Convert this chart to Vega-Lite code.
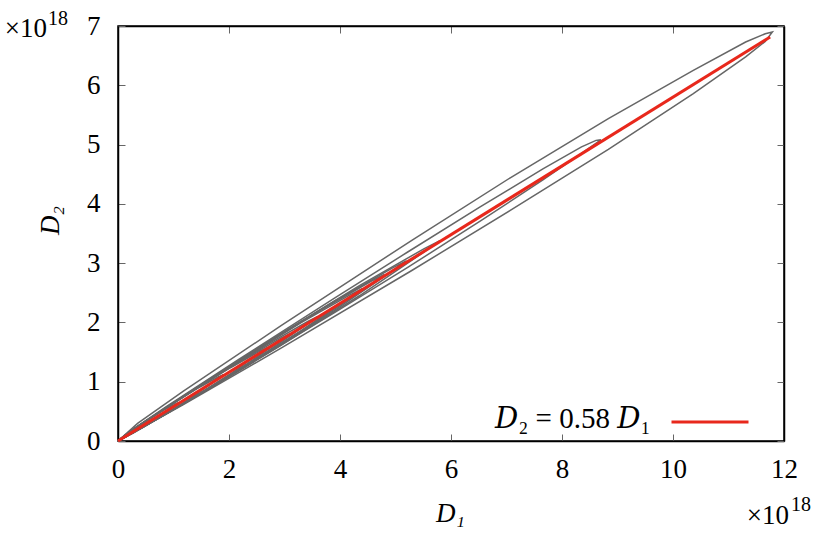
{
  "$schema": "https://vega.github.io/schema/vega-lite/v6.json",
  "width": 666,
  "height": 415,
  "autosize": {"type": "none"},
  "padding": {"left": 118, "top": 26, "right": 46, "bottom": 101},
  "background": "white",
  "config": {
    "font": "'Times New Roman', 'Liberation Serif', 'DejaVu Serif', serif",
    "view": {"stroke": "black", "strokeWidth": 1.5},
    "text": {"font": "'Times New Roman', 'Liberation Serif', 'DejaVu Serif', serif"},
    "legend": {"titleFont": "'Times New Roman', 'Liberation Serif', 'DejaVu Serif', serif", "labelFont": "'Times New Roman', 'Liberation Serif', 'DejaVu Serif', serif"},
    "axis": {
      "grid": false,
      "domainColor": "black",
      "domainWidth": 1.5,
      "tickColor": "#666666",
      "tickWidth": 1,
      "tickSize": -7,
      "labelFont": "'Times New Roman', 'Liberation Serif', 'DejaVu Serif', serif",
      "labelFontSize": 27,
      "labelColor": "black",
      "labelFlush": false,
      "labelOverlap": false,
      "titleFont": "'Times New Roman', 'Liberation Serif', 'DejaVu Serif', serif",
      "titleFontSize": 27,
      "titleFontStyle": "italic",
      "titleFontWeight": "normal",
      "titleColor": "black"
    }
  },
  "datasets": {
    "loops": [
      {"loop": 1, "i": 0, "D1": 0, "D2": 0},
      {"loop": 1, "i": 1, "D1": 0.353, "D2": 0.297},
      {"loop": 1, "i": 2, "D1": 1.178, "D2": 0.84},
      {"loop": 1, "i": 3, "D1": 2.945, "D2": 1.95},
      {"loop": 1, "i": 4, "D1": 5.301, "D2": 3.39},
      {"loop": 1, "i": 5, "D1": 7.068, "D2": 4.44},
      {"loop": 1, "i": 6, "D1": 8.835, "D2": 5.439},
      {"loop": 1, "i": 7, "D1": 10.366, "D2": 6.252},
      {"loop": 1, "i": 8, "D1": 11.309, "D2": 6.73},
      {"loop": 1, "i": 9, "D1": 11.662, "D2": 6.87},
      {"loop": 1, "i": 10, "D1": 11.79, "D2": 6.9},
      {"loop": 1, "i": 11, "D1": 11.662, "D2": 6.74},
      {"loop": 1, "i": 12, "D1": 11.309, "D2": 6.48},
      {"loop": 1, "i": 13, "D1": 10.366, "D2": 5.86},
      {"loop": 1, "i": 14, "D1": 8.835, "D2": 4.92},
      {"loop": 1, "i": 15, "D1": 7.068, "D2": 3.89},
      {"loop": 1, "i": 16, "D1": 5.301, "D2": 2.88},
      {"loop": 1, "i": 17, "D1": 2.945, "D2": 1.57},
      {"loop": 1, "i": 18, "D1": 1.178, "D2": 0.613},
      {"loop": 1, "i": 19, "D1": 0.353, "D2": 0.185},
      {"loop": 1, "i": 20, "D1": 0, "D2": 0},
      {"loop": 2, "i": 0, "D1": 0, "D2": 0},
      {"loop": 2, "i": 1, "D1": 0.261, "D2": 0.194},
      {"loop": 2, "i": 2, "D1": 0.87, "D2": 0.578},
      {"loop": 2, "i": 3, "D1": 2.175, "D2": 1.375},
      {"loop": 2, "i": 4, "D1": 3.915, "D2": 2.419},
      {"loop": 2, "i": 5, "D1": 5.22, "D2": 3.188},
      {"loop": 2, "i": 6, "D1": 6.525, "D2": 3.95},
      {"loop": 2, "i": 7, "D1": 7.656, "D2": 4.589},
      {"loop": 2, "i": 8, "D1": 8.352, "D2": 4.961},
      {"loop": 2, "i": 9, "D1": 8.613, "D2": 5.071},
      {"loop": 2, "i": 10, "D1": 8.7, "D2": 5.08},
      {"loop": 2, "i": 11, "D1": 8.352, "D2": 4.853},
      {"loop": 2, "i": 12, "D1": 7.656, "D2": 4.404},
      {"loop": 2, "i": 13, "D1": 6.525, "D2": 3.708},
      {"loop": 2, "i": 14, "D1": 5.22, "D2": 2.928},
      {"loop": 2, "i": 15, "D1": 3.915, "D2": 2.172},
      {"loop": 2, "i": 16, "D1": 2.175, "D2": 1.186},
      {"loop": 2, "i": 17, "D1": 0.87, "D2": 0.466},
      {"loop": 2, "i": 18, "D1": 0.261, "D2": 0.14},
      {"loop": 2, "i": 19, "D1": 0, "D2": 0},
      {"loop": 3, "i": 0, "D1": 0, "D2": 0},
      {"loop": 3, "i": 1, "D1": 0.29, "D2": 0.209},
      {"loop": 3, "i": 2, "D1": 1.45, "D2": 0.92},
      {"loop": 3, "i": 3, "D1": 2.9, "D2": 1.79},
      {"loop": 3, "i": 4, "D1": 4.35, "D2": 2.62},
      {"loop": 3, "i": 5, "D1": 5.51, "D2": 3.241},
      {"loop": 3, "i": 6, "D1": 5.8, "D2": 3.38},
      {"loop": 3, "i": 7, "D1": 5.51, "D2": 3.186},
      {"loop": 3, "i": 8, "D1": 4.35, "D2": 2.45},
      {"loop": 3, "i": 9, "D1": 2.9, "D2": 1.59},
      {"loop": 3, "i": 10, "D1": 1.45, "D2": 0.775},
      {"loop": 3, "i": 11, "D1": 0.29, "D2": 0.154},
      {"loop": 3, "i": 12, "D1": 0, "D2": 0},
      {"loop": 4, "i": 0, "D1": 0, "D2": 0},
      {"loop": 4, "i": 1, "D1": 0.26, "D2": 0.188},
      {"loop": 4, "i": 2, "D1": 1.3, "D2": 0.828},
      {"loop": 4, "i": 3, "D1": 2.6, "D2": 1.61},
      {"loop": 4, "i": 4, "D1": 3.9, "D2": 2.357},
      {"loop": 4, "i": 5, "D1": 4.94, "D2": 2.915},
      {"loop": 4, "i": 6, "D1": 5.2, "D2": 3.04},
      {"loop": 4, "i": 7, "D1": 4.94, "D2": 2.866},
      {"loop": 4, "i": 8, "D1": 3.9, "D2": 2.204},
      {"loop": 4, "i": 9, "D1": 2.6, "D2": 1.43},
      {"loop": 4, "i": 10, "D1": 1.3, "D2": 0.697},
      {"loop": 4, "i": 11, "D1": 0.26, "D2": 0.138},
      {"loop": 4, "i": 12, "D1": 0, "D2": 0},
      {"loop": 5, "i": 0, "D1": 0, "D2": 0},
      {"loop": 5, "i": 1, "D1": 0.22, "D2": 0.161},
      {"loop": 5, "i": 2, "D1": 1.1, "D2": 0.703},
      {"loop": 5, "i": 3, "D1": 2.2, "D2": 1.365},
      {"loop": 5, "i": 4, "D1": 3.3, "D2": 1.996},
      {"loop": 5, "i": 5, "D1": 4.18, "D2": 2.465},
      {"loop": 5, "i": 6, "D1": 4.4, "D2": 2.57},
      {"loop": 5, "i": 7, "D1": 4.18, "D2": 2.421},
      {"loop": 5, "i": 8, "D1": 3.3, "D2": 1.86},
      {"loop": 5, "i": 9, "D1": 2.2, "D2": 1.205},
      {"loop": 5, "i": 10, "D1": 1.1, "D2": 0.586},
      {"loop": 5, "i": 11, "D1": 0.22, "D2": 0.117},
      {"loop": 5, "i": 12, "D1": 0, "D2": 0},
      {"loop": 6, "i": 0, "D1": 0, "D2": 0},
      {"loop": 6, "i": 1, "D1": 0.18, "D2": 0.133},
      {"loop": 6, "i": 2, "D1": 0.9, "D2": 0.578},
      {"loop": 6, "i": 3, "D1": 1.8, "D2": 1.12},
      {"loop": 6, "i": 4, "D1": 2.7, "D2": 1.635},
      {"loop": 6, "i": 5, "D1": 3.42, "D2": 2.016},
      {"loop": 6, "i": 6, "D1": 3.6, "D2": 2.1},
      {"loop": 6, "i": 7, "D1": 3.42, "D2": 1.978},
      {"loop": 6, "i": 8, "D1": 2.7, "D2": 1.515},
      {"loop": 6, "i": 9, "D1": 1.8, "D2": 0.98},
      {"loop": 6, "i": 10, "D1": 0.9, "D2": 0.476},
      {"loop": 6, "i": 11, "D1": 0.18, "D2": 0.095},
      {"loop": 6, "i": 12, "D1": 0, "D2": 0},
      {"loop": 7, "i": 0, "D1": 0, "D2": 0},
      {"loop": 7, "i": 1, "D1": 0.135, "D2": 0.103},
      {"loop": 7, "i": 2, "D1": 0.675, "D2": 0.44},
      {"loop": 7, "i": 3, "D1": 1.35, "D2": 0.85},
      {"loop": 7, "i": 4, "D1": 2.025, "D2": 1.236},
      {"loop": 7, "i": 5, "D1": 2.565, "D2": 1.519},
      {"loop": 7, "i": 6, "D1": 2.7, "D2": 1.58},
      {"loop": 7, "i": 7, "D1": 2.565, "D2": 1.486},
      {"loop": 7, "i": 8, "D1": 2.025, "D2": 1.134},
      {"loop": 7, "i": 9, "D1": 1.35, "D2": 0.73},
      {"loop": 7, "i": 10, "D1": 0.675, "D2": 0.353},
      {"loop": 7, "i": 11, "D1": 0.135, "D2": 0.07},
      {"loop": 7, "i": 12, "D1": 0, "D2": 0},
      {"loop": 8, "i": 0, "D1": 0, "D2": 0},
      {"loop": 8, "i": 1, "D1": 0.095, "D2": 0.076},
      {"loop": 8, "i": 2, "D1": 0.475, "D2": 0.318},
      {"loop": 8, "i": 3, "D1": 0.95, "D2": 0.61},
      {"loop": 8, "i": 4, "D1": 1.425, "D2": 0.883},
      {"loop": 8, "i": 5, "D1": 1.805, "D2": 1.079},
      {"loop": 8, "i": 6, "D1": 1.9, "D2": 1.12},
      {"loop": 8, "i": 7, "D1": 1.805, "D2": 1.052},
      {"loop": 8, "i": 8, "D1": 1.425, "D2": 0.798},
      {"loop": 8, "i": 9, "D1": 0.95, "D2": 0.51},
      {"loop": 8, "i": 10, "D1": 0.475, "D2": 0.245},
      {"loop": 8, "i": 11, "D1": 0.095, "D2": 0.048},
      {"loop": 8, "i": 12, "D1": 0, "D2": 0},
      {"loop": 9, "i": 0, "D1": 0, "D2": 0},
      {"loop": 9, "i": 1, "D1": 0.055, "D2": 0.049},
      {"loop": 9, "i": 2, "D1": 0.275, "D2": 0.192},
      {"loop": 9, "i": 3, "D1": 0.55, "D2": 0.365},
      {"loop": 9, "i": 4, "D1": 0.825, "D2": 0.521},
      {"loop": 9, "i": 5, "D1": 1.045, "D2": 0.63},
      {"loop": 9, "i": 6, "D1": 1.1, "D2": 0.65},
      {"loop": 9, "i": 7, "D1": 1.045, "D2": 0.608},
      {"loop": 9, "i": 8, "D1": 0.825, "D2": 0.464},
      {"loop": 9, "i": 9, "D1": 0.55, "D2": 0.285},
      {"loop": 9, "i": 10, "D1": 0.275, "D2": 0.135},
      {"loop": 9, "i": 11, "D1": 0.055, "D2": 0.026},
      {"loop": 9, "i": 12, "D1": 0, "D2": 0},
      {"loop": 10, "i": 0, "D1": 0, "D2": 0},
      {"loop": 10, "i": 1, "D1": 0.24, "D2": 0.175},
      {"loop": 10, "i": 2, "D1": 1.2, "D2": 0.766},
      {"loop": 10, "i": 3, "D1": 2.4, "D2": 1.49},
      {"loop": 10, "i": 4, "D1": 3.6, "D2": 2.18},
      {"loop": 10, "i": 5, "D1": 4.56, "D2": 2.695},
      {"loop": 10, "i": 6, "D1": 4.8, "D2": 2.81},
      {"loop": 10, "i": 7, "D1": 4.56, "D2": 2.648},
      {"loop": 10, "i": 8, "D1": 3.6, "D2": 2.035},
      {"loop": 10, "i": 9, "D1": 2.4, "D2": 1.32},
      {"loop": 10, "i": 10, "D1": 1.2, "D2": 0.643},
      {"loop": 10, "i": 11, "D1": 0.24, "D2": 0.128},
      {"loop": 10, "i": 12, "D1": 0, "D2": 0},
      {"loop": 11, "i": 0, "D1": 0, "D2": 0},
      {"loop": 11, "i": 1, "D1": 0.155, "D2": 0.117},
      {"loop": 11, "i": 2, "D1": 0.775, "D2": 0.501},
      {"loop": 11, "i": 3, "D1": 1.55, "D2": 0.97},
      {"loop": 11, "i": 4, "D1": 2.325, "D2": 1.413},
      {"loop": 11, "i": 5, "D1": 2.945, "D2": 1.739},
      {"loop": 11, "i": 6, "D1": 3.1, "D2": 1.81},
      {"loop": 11, "i": 7, "D1": 2.945, "D2": 1.703},
      {"loop": 11, "i": 8, "D1": 2.325, "D2": 1.302},
      {"loop": 11, "i": 9, "D1": 1.55, "D2": 0.84},
      {"loop": 11, "i": 10, "D1": 0.775, "D2": 0.407},
      {"loop": 11, "i": 11, "D1": 0.155, "D2": 0.081},
      {"loop": 11, "i": 12, "D1": 0, "D2": 0}
    ],
    "fit": [
      {"label": "fit", "D1": 0, "D2": 0},
      {"label": "fit", "D1": 11.75, "D2": 6.815}
    ],
    "corner": [{"D1": 12, "D2": 0, "t": "×10", "s": "18"}],
    "corner2": [{"D1": 0, "D2": 7, "t": "×10", "s": "18"}]
  },
  "layer": [
    {
      "data": {"name": "loops"},
      "mark": {"type": "line", "color": "#666666", "strokeWidth": 1.5},
      "encoding": {
        "x": {
          "field": "D1", "type": "quantitative",
          "scale": {"domain": [0, 12], "nice": false, "zero": false},
          "axis": {
            "orient": "bottom",
            "values": [0, 2, 4, 6, 8, 10, 12],
            "labelPadding": 22,
            "title": "D₁",
            "titleX": 332,
            "titleY": 80,
            "titleAlign": "center",
            "titleBaseline": "alphabetic",
            "titleAngle": 0
          }
        },
        "y": {
          "field": "D2", "type": "quantitative",
          "scale": {"domain": [0, 7], "nice": false, "zero": false},
          "axis": {
            "orient": "left",
            "values": [0, 1, 2, 3, 4, 5, 6, 7],
            "labelPadding": 25,
            "labelBaseline": "middle",
            "title": "D₂",
            "titleX": -60,
            "titleY": 194,
            "titleAngle": -90,
            "titleAlign": "center",
            "titleBaseline": "alphabetic"
          }
        },
        "detail": {"field": "loop", "type": "nominal"},
        "order": {"field": "i", "type": "quantitative"}
      }
    },
    {
      "data": {"name": "fit"},
      "mark": {"type": "line", "strokeWidth": 3},
      "encoding": {
        "x": {
          "field": "D1", "type": "quantitative",
          "axis": {"orient": "top", "values": [0, 2, 4, 6, 8, 10, 12], "labels": false, "title": null}
        },
        "y": {
          "field": "D2", "type": "quantitative",
          "axis": {"orient": "right", "values": [0, 1, 2, 3, 4, 5, 6, 7], "labels": false, "title": null}
        },
        "color": {
          "field": "label", "type": "nominal",
          "scale": {"range": ["#e8281c"]},
          "legend": {
            "orient": "none",
            "legendX": 377,
            "legendY": 356,
            "title": "𝐷₂ = 0.58 𝐷₁",
            "titleOrient": "left",
            "titleAnchor": "middle",
            "titleBaseline": "top",
            "titleFontSize": 29,
            "titleFontWeight": "normal",
            "titleColor": "black",
            "titleLimit": 600,
            "titlePadding": 19,
            "symbolType": "stroke",
            "symbolSize": 5929,
            "symbolStrokeWidth": 3,
            "labelExpr": "''",
            "padding": 0
          }
        }
      }
    },
    {
      "data": {"name": "corner"},
      "mark": {"type": "text", "align": "right", "baseline": "alphabetic", "dx": 5, "dy": 83, "fontSize": 27, "color": "black"},
      "encoding": {
        "x": {"field": "D1", "type": "quantitative", "axis": null},
        "y": {"field": "D2", "type": "quantitative", "axis": null},
        "text": {"field": "t"}
      }
    },
    {
      "data": {"name": "corner"},
      "mark": {"type": "text", "align": "left", "baseline": "alphabetic", "dx": 7, "dy": 70, "fontSize": 20, "color": "black"},
      "encoding": {
        "x": {"field": "D1", "type": "quantitative", "axis": null},
        "y": {"field": "D2", "type": "quantitative", "axis": null},
        "text": {"field": "s"}
      }
    },
    {
      "data": {"name": "corner2"},
      "mark": {"type": "text", "align": "right", "baseline": "alphabetic", "dx": -71, "dy": 10.5, "fontSize": 27, "color": "black"},
      "encoding": {
        "x": {"field": "D1", "type": "quantitative", "axis": null},
        "y": {"field": "D2", "type": "quantitative", "axis": null},
        "text": {"field": "t"}
      }
    },
    {
      "data": {"name": "corner2"},
      "mark": {"type": "text", "align": "left", "baseline": "alphabetic", "dx": -70, "dy": -1.5, "fontSize": 20, "color": "black"},
      "encoding": {
        "x": {"field": "D1", "type": "quantitative", "axis": null},
        "y": {"field": "D2", "type": "quantitative", "axis": null},
        "text": {"field": "s"}
      }
    }
  ],
  "resolve": {"axis": {"x": "independent", "y": "independent"}}
}
